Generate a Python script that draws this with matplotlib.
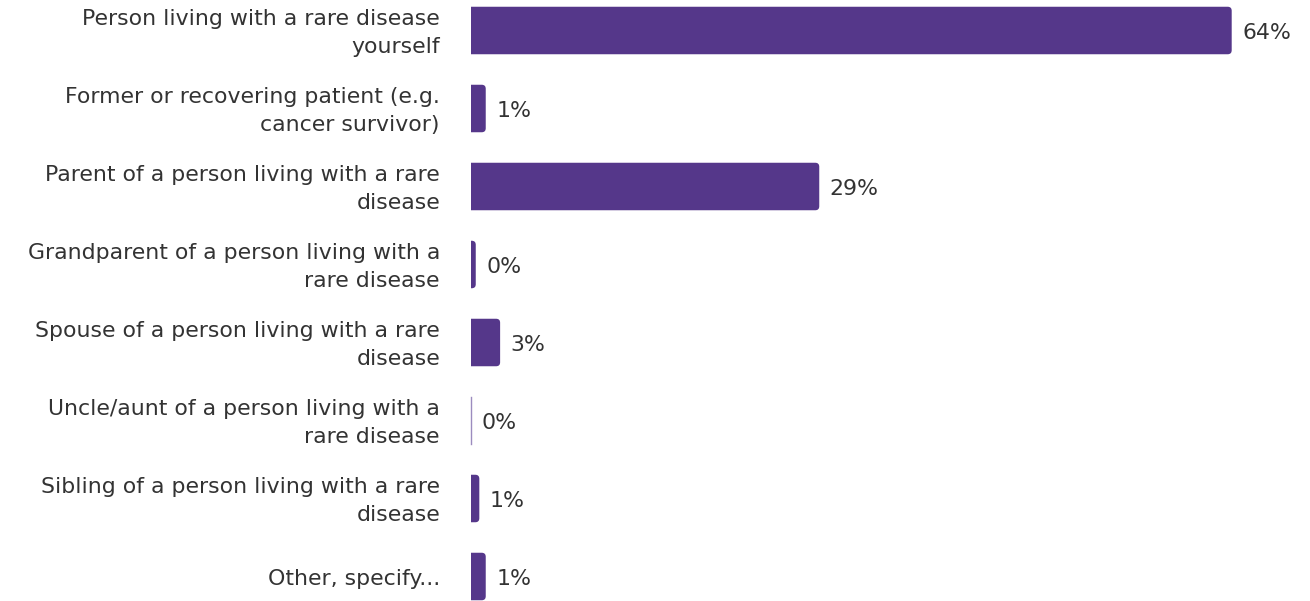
import matplotlib
matplotlib.use("Agg")
import matplotlib.pyplot as plt
from matplotlib.patches import FancyBboxPatch

categories = [
    "Person living with a rare disease\nyourself",
    "Former or recovering patient (e.g.\ncancer survivor)",
    "Parent of a person living with a rare\ndisease",
    "Grandparent of a person living with a\nrare disease",
    "Spouse of a person living with a rare\ndisease",
    "Uncle/aunt of a person living with a\nrare disease",
    "Sibling of a person living with a rare\ndisease",
    "Other, specify...",
]
values = [64.0, 1.24, 29.3, 0.4, 2.45, 0.0, 0.7, 1.24]
value_labels = ["64%", "1%", "29%", "0%", "3%", "0%", "1%", "1%"]

purple = "#55378a"
text_color = "#333333"

W, H = 1310, 601
fig = plt.figure(figsize=(W / 100, H / 100), dpi=100)
x0 = 471
ax = fig.add_axes([x0 / W, 0, (W - x0) / W, 1])

px_per_unit = 760.7 / 64.0
xmax = (W - x0) / px_per_unit
pitch = 78.0
first_c = 30.5
ax.set_xlim(0, xmax)
ax.set_ylim((H - first_c) / pitch, -first_c / pitch)
ax.axis("off")

bar_h = 47.5 / pitch
r = 4.0 / px_per_unit
aspect = (1 / pitch) / (1 / px_per_unit)
dy = 2.5 / pitch  # text sits a little lower than bar centre

for i, (v, lab) in enumerate(zip(values, value_labels)):
    if v > 0:
        box = FancyBboxPatch((-r, i - bar_h / 2), v + r, bar_h,
                             boxstyle=f"round,pad=0,rounding_size={r}",
                             mutation_aspect=aspect,
                             facecolor=purple, edgecolor="none")
        ax.add_patch(box)
    else:
        ax.plot([0.04, 0.04], [i - bar_h / 2, i + bar_h / 2], color="#9c8cbf",
                lw=1, clip_on=False)
    ax.text(v + 10.5 / px_per_unit, i + dy, lab, ha="left", va="center",
            fontsize=15.8, color=text_color)
    ax.text(-31 / px_per_unit, i + dy, categories[i], ha="right", va="center",
            fontsize=15.8, color=text_color, linespacing=1.5, clip_on=False)

fig.savefig("out.png", dpi=100)
